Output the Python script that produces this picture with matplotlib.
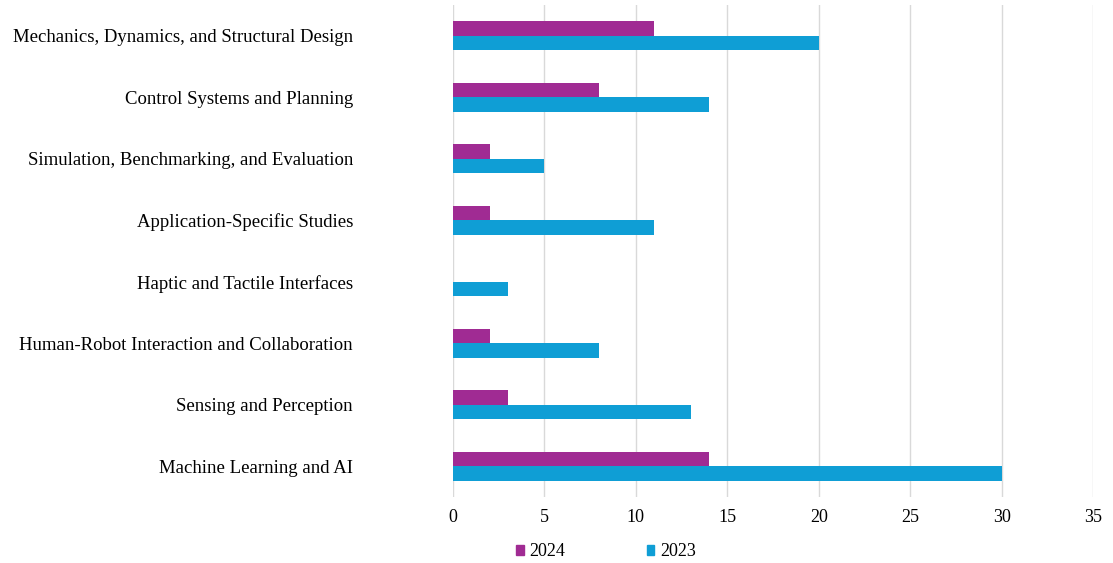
import matplotlib
matplotlib.use("Agg")
import matplotlib.pyplot as plt
from matplotlib.patches import Patch

categories = [
    "Mechanics, Dynamics, and Structural Design",
    "Control Systems and Planning",
    "Simulation, Benchmarking, and Evaluation",
    "Application-Specific Studies",
    "Haptic and Tactile Interfaces",
    "Human-Robot Interaction and Collaboration",
    "Sensing and Perception",
    "Machine Learning and AI",
]
values_2024 = [11, 8, 2, 2, 0, 2, 3, 14]
values_2023 = [20, 14, 5, 11, 3, 8, 13, 30]
xticks = [0, 5, 10, 15, 20, 25, 30, 35]

c24 = "#A02B93"
c23 = "#0F9ED5"

plt.rcParams['font.family'] = ['Liberation Serif', 'DejaVu Serif']

W, H = 1113, 563
fig = plt.figure(figsize=(W / 100, H / 100), dpi=100)
ax = fig.add_axes([453 / W, 1 - 497 / H, (1093 - 453) / W, (497 - 5) / H])

n = len(categories)
pos = list(range(n))
bh = 0.236
ax.barh([p - bh / 2 for p in pos], values_2024, height=bh, color=c24, zorder=3)
ax.barh([p + bh / 2 for p in pos], values_2023, height=bh, color=c23, zorder=3)

ax.set_ylim(n - 0.5, -0.5)
ax.set_xlim(0, 35)
ax.set_xticks(xticks)
ax.set_xticklabels([str(t) for t in xticks], fontsize=13)
ax.set_yticks(pos)
ax.set_yticklabels(categories, fontsize=13.5)
ax.tick_params(axis='y', length=0, pad=72)
ax.tick_params(axis='x', length=0, pad=9)
ax.grid(axis='x', color='#D9D9D9', linewidth=1, zorder=0)
for s in ax.spines.values():
    s.set_visible(False)

handles = [Patch(color=c24, label="2024"), Patch(color=c23, label="2023")]
fig.legend(handles=handles, loc='center', bbox_to_anchor=(606 / W, 1 - 552 / H),
           ncol=2, frameon=False, fontsize=13, handlelength=0.4, handleheight=0.4,
           handletextpad=0.3, columnspacing=4.56, borderaxespad=0)

fig.savefig("out.png", dpi=100)
